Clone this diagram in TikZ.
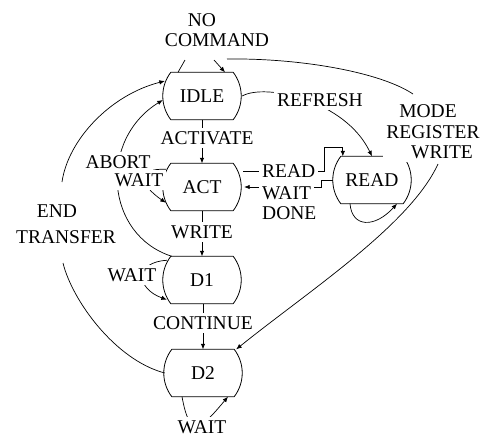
\documentclass[tikz,border=0pt]{standalone}
\usepackage{fontspec}
\setmainfont{Liberation Serif}
\newfontfamily\dgfont{Liberation Serif}
\usetikzlibrary{arrows.meta,backgrounds,calc}
\newcommand{\stbox}[4]{%
  \node[stnode] (#1) at (#2,#3) {#4};
  \draw[stline] ([xshift=8pt]#1.north west) -- ([xshift=-8pt]#1.north east)
     .. controls ([shift={(2.7,14)}]#1.north east) and ([shift={(2.7,-14)}]#1.south east) .. ([xshift=-8pt]#1.south east)
     -- ([xshift=8pt]#1.south west)
     .. controls ([shift={(-2.7,-14)}]#1.south west) and ([shift={(-2.7,14)}]#1.north west) .. cycle;
}
\begin{document}
\begin{tikzpicture}[x=1pt,y=-1pt,
  lbl/.style={font=\dgfont\fontsize{19.5}{20.5}\selectfont, fill=white, inner sep=3pt, align=center},
  stnode/.style={font=\dgfont\fontsize{19.5}{20.5}\selectfont, minimum width=78pt, minimum height=47pt, inner sep=0pt},
  stline/.style={line width=0.8pt},
  conn/.style={line width=0.7pt},
  arr/.style={conn, -{Latex[length=5.5pt,width=4.5pt]}},
]
\useasboundingbox (0,0) rectangle (485,437);

% states
\stbox{IDLE}{202}{96}{IDLE}
\stbox{ACT}{202}{187}{ACT}
\stbox{D1}{202}{280}{D1}
\stbox{D2}{203}{373}{D2}
\stbox{READ}{372}{180}{READ}

% labels
\node[lbl] (nocmd) at (217,30) {\hspace*{-30pt}NO\\COMMAND};
\node[lbl] (activate) at (207,138) {ACTIVATE};
\node[lbl] (write) at (202,232) {WRITE};
\node[lbl] (continue) at (203,323) {CONTINUE};
\node[lbl] (refresh) at (320,100) {REFRESH};
\node[lbl] (mrw) at (433,132) {\hspace*{-10pt}MODE\\REGISTER\\\hspace*{18pt}WRITE};
\node[lbl] (abort) at (118,162) {ABORT};
\node[lbl] (actwait) at (139,180) {WAIT};
\node[lbl] (d1wait) at (132,275) {WAIT};
\node[lbl] (d2wait) at (202,427) {WAIT};
\node[lbl,anchor=west] (rdread) at (259,171) {READ};
\node[lbl,anchor=west] (rdwait) at (259,193) {WAIT};
\node[lbl,anchor=west] (rddone) at (259,213) {DONE};
\node[lbl] (endtr) at (66,224) {\hspace*{-18pt}END\\[6pt]TRANSFER};

\begin{scope}[on background layer]
\fill[white] (0,0) rectangle (485,437);
% NO COMMAND self loop
\draw[conn] ([xshift=-24pt]IDLE.north) -- ([shift={(-32,10)}]nocmd.south);
\draw[arr] ([shift={(-3,10)}]nocmd.south) -- ([xshift=23pt]IDLE.north);
\coordinate (mrwstart) at ([shift={(10,9)}]nocmd.south);
% REFRESH
\draw[arr] ([xshift=1pt]IDLE.east) .. controls (265,83) and (345,100) .. (READ.north);
% main chain
\draw[arr] (IDLE.south) -- (IDLE.south |- ACT.north);
\draw[arr] (ACT.south) -- (ACT.south |- D1.north);
\draw[arr] ([xshift=1pt]D1.south) -- ([xshift=1pt]D1.south |- D2.north);
% ABORT
\draw[arr] ([xshift=9pt]D1.north west) .. controls (105,235) and (98,140) .. ([shift={(0,4)}]IDLE.west);
% ACT wait loop
\draw[arr] ([shift={(3,6)}]ACT.north west) .. controls (135,168) and (140,185) .. ([shift={(3,-8)}]ACT.south west);
% D1 wait loop
\draw[arr] ([shift={(4,4)}]D1.north west) .. controls (135,262) and (135,288) .. ([shift={(4,-4)}]D1.south west);
% D2 wait loop
\draw[arr] ([xshift=-21pt]D2.south) .. controls (190,440) and (200,430) .. ([xshift=25pt]D2.south);
% END TRANSFER
\coordinate (etlow) at (63,263);
\coordinate (ethigh) at (62,182);
\draw[conn] ([xshift=1pt]D2.west) .. controls (115,360) and (72,300) .. (etlow);
\draw[arr] (ethigh) .. controls (68,140) and (110,95) .. ([shift={(2,-15)}]IDLE.west);
% MODE REGISTER WRITE
\coordinate (mrwa) at (413,94);
\coordinate (mrwb) at (438,164);
\draw[conn] (mrwstart) .. controls (300,58) and (380,72) .. (mrwa);
\draw[arr] (mrwb) .. controls (410,225) and (310,290) .. ([xshift=-6pt]D2.north east);
% ACT -> READ (READ)
\draw[arr] ([shift={(2,-16)}]ACT.east) -- (324,171) |- ([shift={(10,-8.5)}]READ.north west) -- ([xshift=10pt]READ.north west);
% READ -> ACT (DONE)
\draw[arr] (READ.west) -- ++(-11,0) |- ([xshift=3pt]ACT.east);
% READ wait loop
\draw[arr] ([xshift=-22pt]READ.south) .. controls (352,228) and (375,228) .. ([xshift=25pt]READ.south);
\end{scope}
\end{tikzpicture}
\end{document}
